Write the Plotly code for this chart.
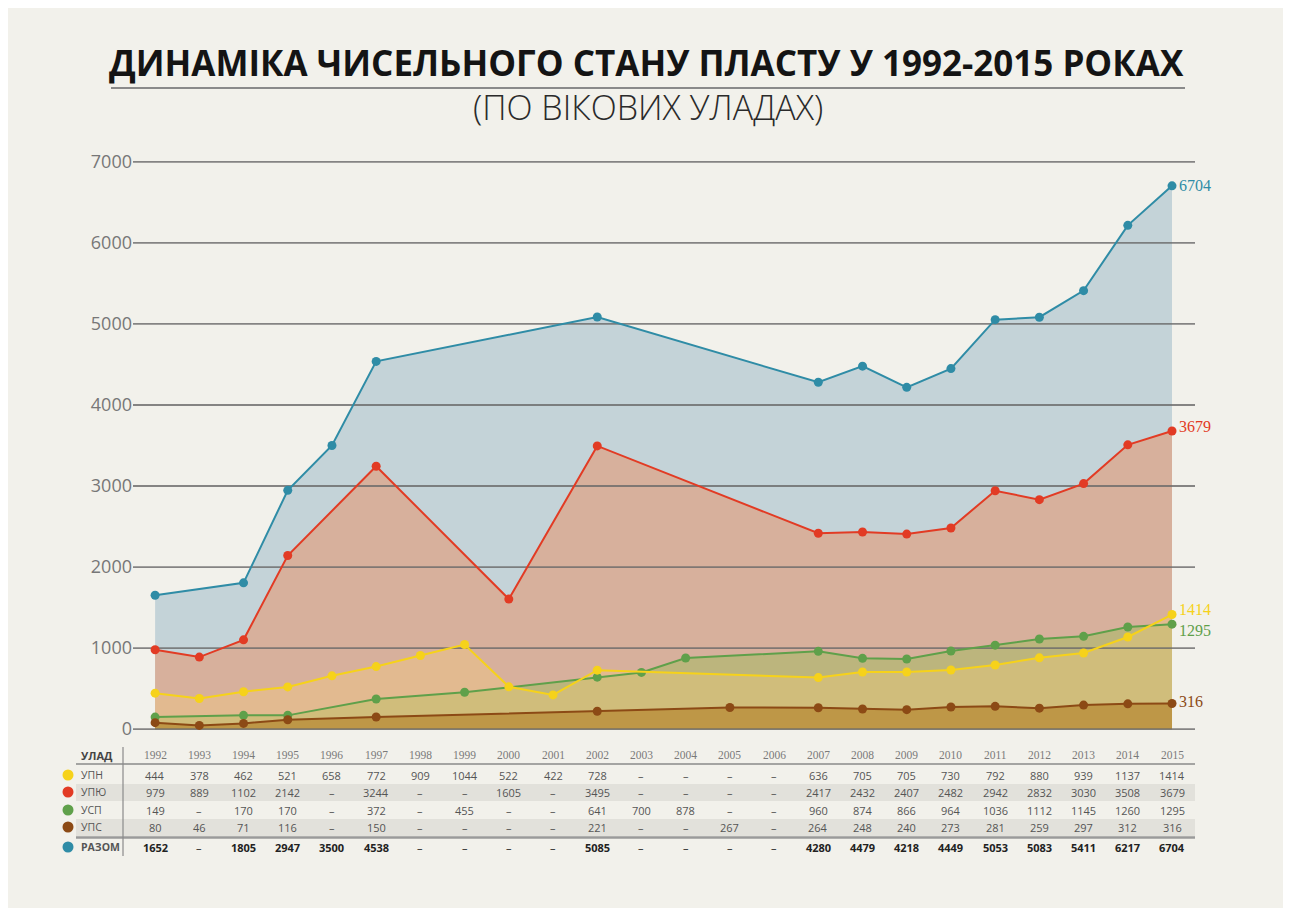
import plotly.graph_objects as go

# ---------------- data ----------------
YEARS = list(range(1992, 2016))
UPN = [444, 378, 462, 521, 658, 772, 909, 1044, 522, 422, 728, None, None, None, None,
       636, 705, 705, 730, 792, 880, 939, 1137, 1414]
UPYU = [979, 889, 1102, 2142, None, 3244, None, None, 1605, None, 3495, None, None, None, None,
        2417, 2432, 2407, 2482, 2942, 2832, 3030, 3508, 3679]
USP = [149, None, 170, 170, None, 372, None, 455, None, None, 641, 700, 878, None, None,
       960, 874, 866, 964, 1036, 1112, 1145, 1260, 1295]
UPS = [80, 46, 71, 116, None, 150, None, None, None, None, 221, None, None, 267, None,
       264, 248, 240, 273, 281, 259, 297, 312, 316]
TOTAL = [1652, None, 1805, 2947, 3500, 4538, None, None, None, None, 5085, None, None, None, None,
         4280, 4479, 4218, 4449, 5053, 5083, 5411, 6217, 6704]

ROW_LABELS = ["УПН", "УПЮ", "УСП", "УПС", "РАЗОМ"]
Y_TICKS = [0, 1000, 2000, 3000, 4000, 5000, 6000, 7000]
TITLE = "ДИНАМІКА ЧИСЕЛЬНОГО СТАНУ ПЛАСТУ У 1992-2015 РОКАХ"
SUBTITLE = "(ПО ВІКОВИХ УЛАДАХ)"

# ---------------- styles ----------------
OFF = 8  # page body margin
W_FIG, H_FIG = 1284 - OFF, 908 - OFF
# plot area in screen pixels
L, R, T, B = 133, 1195, 157, 734
PW, PH = R - L, B - T
X_RANGE = [1991.5, 2015.52]
Y_RANGE = [-60, 7060]


def xp(px):
    return (px - L) / PW


def yp(py):
    return (B - py) / PH


series = [
    # name, values, line colour, fill colour
    ("РАЗОМ", TOTAL, "#2f8ca6", "#c4d3d8"),
    ("УПЮ", UPYU, "#e23b24", "#d7b09c"),
    ("УСП", USP, "#5fa04a", "rgba(165,185,100,0.55)"),
    ("УПН", UPN, "#f6d21a", "rgba(250,205,120,0.33)"),
    ("УПС", UPS, "#8c4a15", "rgba(175,120,30,0.55)"),
]


def clean(vals):
    xs = [y for y, v in zip(YEARS, vals) if v is not None]
    ys = [v for v in vals if v is not None]
    return xs, ys


fig = go.Figure()

# fills
for name, vals, lc, fc in series:
    xs, ys = clean(vals)
    fig.add_trace(go.Scatter(x=xs, y=ys, mode="none", fill="tozeroy", fillcolor=fc,
                             hoverinfo="skip", showlegend=False))

# gridlines drawn above fills
gx, gy = [], []
for t in Y_TICKS:
    gx += [X_RANGE[0], X_RANGE[1], None]
    gy += [t, t, None]
fig.add_trace(go.Scatter(x=gx, y=gy, mode="lines", line=dict(color="rgba(105,105,105,0.8)", width=1.8),
                         hoverinfo="skip", showlegend=False))

# lines + markers
for name, vals, lc, fc in series:
    xs, ys = clean(vals)
    fig.add_trace(go.Scatter(x=xs, y=ys, mode="lines+markers", name=name,
                             line=dict(color=lc, width=2), marker=dict(color=lc, size=9),
                             cliponaxis=False, showlegend=False))

annotations = []
shapes = []

# end labels
end_shift = {"РАЗОМ": 0, "УПЮ": 4, "УСП": -6, "УПН": 5, "УПС": 2}
for name, vals, lc, fc in series:
    xs, ys = clean(vals)
    annotations.append(dict(x=xs[-1], y=ys[-1], xref="x", yref="y", text=str(ys[-1]),
                            showarrow=False, xanchor="left", xshift=5, yshift=end_shift[name],
                            font=dict(family="Liberation Serif", size=16, color=lc)))

# title
annotations.append(dict(x=xp(646), y=yp(62), xref="paper", yref="paper", text="<b>" + TITLE + "</b>",
                        showarrow=False, xanchor="center", yanchor="middle",
                        font=dict(family="Open Sans", size=35, color="#141414")))
shapes.append(dict(type="line", xref="paper", yref="paper", x0=xp(111), x1=xp(1185), y0=yp(88), y1=yp(88),
                   line=dict(color="#8a8a8a", width=2)))
annotations.append(dict(x=xp(648), y=yp(107), xref="paper", yref="paper", text=SUBTITLE,
                        showarrow=False, xanchor="center", yanchor="middle",
                        font=dict(family="Open Sans", size=34, color="#2a2a2a", weight=300)))

# ---------------- table ----------------
row_py = [775, 792, 810, 827, 847]
table_rows = [UPN, UPYU, USP, UPS, TOTAL]
row_colors = ["#f6d21a", "#e23b24", "#5fa04a", "#8c4a15", "#2f8ca6"]

# shaded rows
for py0, py1 in [(784, 801), (819, 836)]:
    shapes.append(dict(type="rect", xref="paper", yref="paper", x0=xp(76), x1=xp(1195), y0=yp(py1), y1=yp(py0),
                       fillcolor="#e2e1db", line=dict(width=0), layer="below"))
# header line, total line, vertical divider
shapes.append(dict(type="line", xref="paper", yref="paper", x0=xp(76), x1=xp(1195), y0=yp(764), y1=yp(764),
                   line=dict(color="#8a8a8a", width=1.5)))
shapes.append(dict(type="line", xref="paper", yref="paper", x0=xp(76), x1=xp(1195), y0=yp(837.5), y1=yp(837.5),
                   line=dict(color="#9a9a9a", width=2.5)))
shapes.append(dict(type="line", xref="paper", yref="paper", x0=xp(123), x1=xp(123), y0=yp(856), y1=yp(747),
                   line=dict(color="#8a8a8a", width=1.2)))

# header
annotations.append(dict(x=xp(79), y=yp(755), xref="paper", yref="paper", text="<b>УЛАД</b>", showarrow=False,
                        xanchor="left", yanchor="middle", font=dict(family="Open Sans", size=11, color="#444")))
for yr in YEARS:
    annotations.append(dict(x=yr, y=yp(755), xref="x", yref="paper", text=str(yr), showarrow=False,
                            xanchor="center", yanchor="middle",
                            font=dict(family="Liberation Serif", size=11.5, color="#7a7a7a")))

for i, (lab, vals, py, col) in enumerate(zip(ROW_LABELS, table_rows, row_py, row_colors)):
    bold = lab == "РАЗОМ"
    r = 5.5
    shapes.append(dict(type="circle", xref="paper", yref="paper", x0=xp(68 - r), x1=xp(68 + r),
                       y0=yp(py + r), y1=yp(py - r), fillcolor=col, line=dict(width=0)))
    annotations.append(dict(x=xp(79), y=yp(py), xref="paper", yref="paper",
                            text=("<b>" + lab + "</b>") if bold else lab, showarrow=False,
                            xanchor="left", yanchor="middle",
                            font=dict(family="Open Sans", size=10.5, color="#555")))
    for yr, v in zip(YEARS, vals):
        txt = "–" if v is None else str(v)
        if bold and v is not None:
            txt = "<b>" + txt + "</b>"
        annotations.append(dict(x=yr, y=yp(py), xref="x", yref="paper", text=txt, showarrow=False,
                                xanchor="center", yanchor="middle",
                                font=dict(family="Open Sans", size=11,
                                          color="#222" if bold else "#555")))

fig.update_layout(
    width=W_FIG, height=H_FIG,
    margin=dict(l=L - OFF, r=W_FIG - (R - OFF), t=T - OFF, b=H_FIG - (B - OFF), pad=0),
    paper_bgcolor="#f2f1eb",
    plot_bgcolor="rgba(0,0,0,0)",
    showlegend=False,
    xaxis=dict(range=X_RANGE, showgrid=False, zeroline=False, showticklabels=False, ticks="",
               showline=False),
    yaxis=dict(range=Y_RANGE, tickvals=Y_TICKS, showgrid=False, zeroline=False, showline=False,
               tickfont=dict(family="Open Sans", size=18, color="#777"), ticks=""),
    annotations=annotations,
    shapes=shapes,
)

fig.write_html("out.html")
